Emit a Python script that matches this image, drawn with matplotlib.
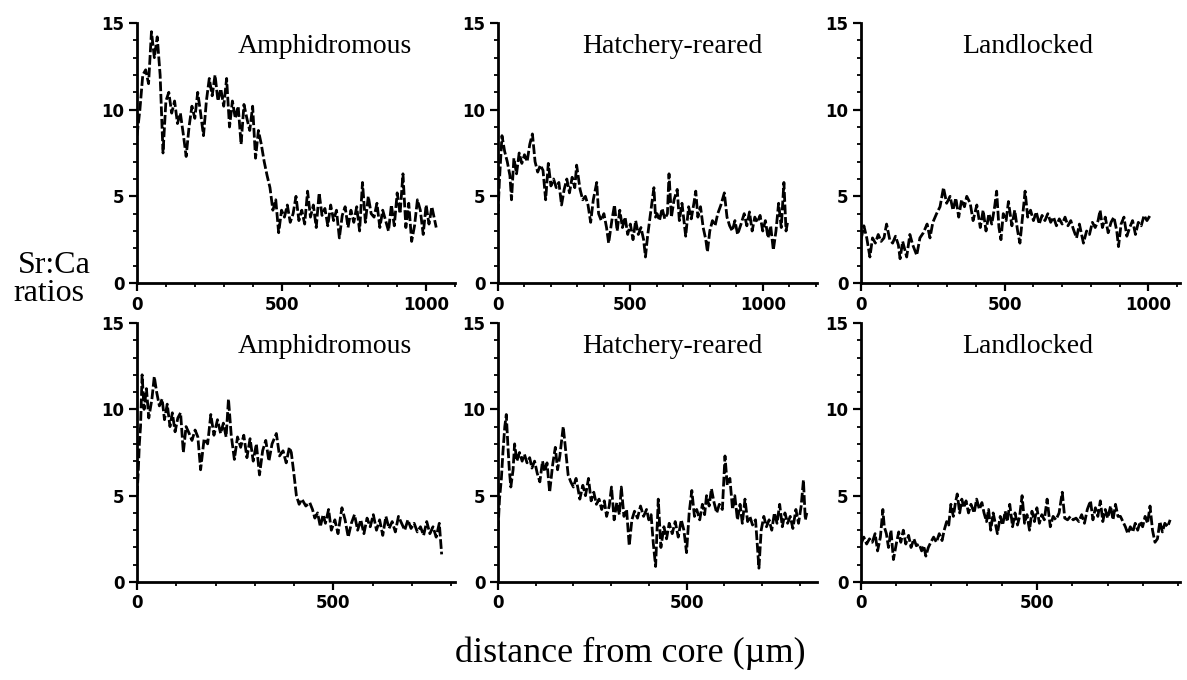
import matplotlib
matplotlib.use("Agg")
import matplotlib.pyplot as plt
from matplotlib.ticker import MultipleLocator

# Sr:Ca profiles (distance in um, ratio)
amph_top_x = [0, 10, 20, 30, 40, 50, 60, 70, 80, 90, 100, 110, 120, 130, 140, 150, 160, 170, 180, 190,
              200, 210, 220, 230, 240, 250, 260, 270, 280, 290, 300, 310, 320, 330, 340, 350, 360, 370,
              380, 390, 400, 410, 420, 430, 440, 450, 460, 470, 480, 490, 500, 510, 520, 530, 540, 550,
              560, 570, 580, 590, 600, 610, 620, 630, 640, 650, 660, 670, 680, 690, 700, 710, 720, 730,
              740, 750, 760, 770, 780, 790, 800, 810, 820, 830, 840, 850, 860, 870, 880, 890, 900, 910,
              920, 930, 940, 950, 960, 970, 980, 990, 1000, 1010, 1020, 1035]
amph_top_y = [8.5, 10.0, 12.0, 12.3, 11.5, 14.5, 13.0, 14.2, 12.0, 7.5, 10.5, 11.0, 9.8, 10.5, 9.2, 9.8,
              8.6, 7.3, 9.0, 10.2, 9.5, 11.0, 9.8, 8.5, 10.5, 11.8, 10.8, 12.0, 10.5, 11.2, 10.2, 11.8,
              9.0, 10.5, 9.5, 10.2, 8.0, 10.3, 9.5, 8.8, 10.2, 7.2, 8.8, 8.0, 7.0, 6.2, 5.5, 4.2, 4.8,
              2.9, 4.2, 3.8, 4.5, 3.5, 4.0, 5.0, 3.6, 4.2, 3.4, 5.3, 3.8, 4.5, 3.2, 5.2, 3.9, 4.3, 3.3,
              4.5, 3.6, 4.2, 2.6, 3.9, 4.4, 3.2, 4.2, 3.5, 4.4, 3.0, 5.8, 3.5, 5.0, 4.0, 3.8, 4.6, 3.2,
              4.2, 3.6, 3.0, 4.5, 3.3, 5.2, 4.0, 6.3, 3.2, 4.6, 2.4, 3.3, 4.8, 4.2, 2.8, 4.5, 3.4, 4.4, 3.2]

hatch_top_x = [0, 5, 15, 25, 35, 45, 51, 60, 70, 80, 90, 100, 110, 120, 130, 140, 150, 160, 170, 180,
               190, 200, 210, 220, 230, 240, 250, 260, 270, 280, 290, 297, 310, 320, 330, 340, 350, 360,
               373, 380, 390, 400, 410, 418, 430, 440, 450, 460, 470, 480, 490, 500, 510, 520, 530, 540,
               550, 557, 565, 576, 589, 595, 601, 610, 620, 630, 640, 646, 655, 665, 677, 685, 695, 709,
               720, 730, 740, 747, 755, 765, 775, 785, 791, 800, 810, 820, 830, 842, 855, 865, 875, 885,
               895, 905, 918, 930, 940, 950, 960, 970, 980, 990, 1000, 1010, 1020, 1030, 1040, 1050,
               1060, 1070, 1080, 1088, 1095]
hatch_top_y = [4.0, 5.8, 8.5, 7.6, 7.0, 6.2, 4.8, 7.2, 6.3, 7.5, 6.9, 7.4, 7.0, 8.0, 8.6, 7.0, 6.4, 6.8,
               6.5, 4.8, 6.9, 5.6, 6.0, 5.5, 5.8, 4.5, 5.4, 6.0, 5.2, 6.1, 5.5, 6.8, 5.4, 4.8, 5.0, 4.5,
               3.5, 4.8, 5.8, 4.0, 3.6, 4.0, 3.2, 2.3, 3.6, 4.5, 3.0, 4.2, 3.2, 3.8, 2.8, 3.4, 2.5, 3.6,
               2.8, 3.2, 2.5, 1.5, 2.7, 4.0, 5.5, 3.8, 4.0, 3.6, 4.3, 3.7, 4.0, 6.3, 3.8, 4.8, 5.4, 3.6,
               4.6, 2.7, 4.4, 3.7, 4.6, 5.3, 3.8, 4.4, 3.2, 2.5, 1.8, 3.0, 3.6, 3.3, 4.0, 4.5, 5.2, 3.8,
               3.3, 3.0, 3.6, 2.8, 3.4, 4.0, 3.3, 4.1, 3.0, 3.8, 3.5, 3.9, 3.0, 3.6, 2.6, 3.3, 1.9, 3.0,
               4.6, 3.2, 5.8, 3.0, 3.6]

land_top_x = [0, 10, 20, 31, 40, 50, 60, 70, 80, 89, 100, 110, 120, 130, 136, 145, 159, 170, 180, 194,
              205, 217, 230, 240, 250, 263, 275, 287, 298, 310, 320, 330, 340, 350, 360, 368, 380, 390,
              403, 415, 425, 435, 445, 455, 465, 472, 480, 487, 495, 505, 513, 525, 535, 545, 553, 562,
              571, 580, 590, 600, 610, 620, 630, 640, 650, 660, 670, 680, 690, 700, 710, 720, 730, 739,
              750, 760, 774, 785, 795, 805, 815, 825, 832, 840, 850, 860, 870, 880, 890, 896, 905, 915,
              925, 935, 945, 955, 965, 975, 985, 995, 1006]
land_top_y = [2.5, 3.3, 2.6, 1.5, 2.6, 2.3, 2.8, 2.4, 2.6, 3.4, 2.5, 2.3, 2.7, 2.2, 1.4, 2.4, 1.5, 2.8,
              2.2, 1.6, 2.6, 2.9, 3.4, 2.6, 3.5, 4.0, 4.4, 5.5, 4.6, 5.0, 4.2, 4.9, 3.8, 4.8, 4.4, 5.0,
              4.6, 3.6, 4.5, 3.2, 4.2, 3.0, 4.0, 3.4, 4.4, 5.3, 3.2, 2.5, 4.0, 3.6, 4.7, 3.3, 4.2, 3.0,
              2.3, 3.8, 5.3, 3.8, 4.2, 3.6, 4.1, 3.4, 3.9, 3.6, 4.0, 3.5, 3.8, 3.3, 3.7, 3.4, 3.8, 3.3,
              3.6, 3.1, 2.6, 3.4, 2.3, 3.0, 2.8, 3.5, 3.2, 3.6, 4.2, 3.2, 3.8, 2.9, 3.5, 3.8, 3.0, 2.1,
              3.4, 3.8, 2.7, 3.2, 3.6, 2.8, 3.5, 3.3, 3.9, 3.6, 3.9]

amph_bot_x = [0, 3, 6, 9, 13, 18, 24, 30, 38, 44, 50, 57, 64, 70, 77, 84, 90, 97, 104, 111, 118, 125,
              133, 140, 148, 155, 162, 171, 180, 188, 196, 205, 213, 220, 227, 233, 240, 248, 256, 264,
              272, 280, 288, 296, 304, 312, 320, 328, 336, 344, 355, 363, 372, 380, 388, 393, 400, 406,
              413, 420, 430, 440, 447, 453, 460, 467, 474, 480, 488, 495, 504, 512, 522, 530, 538, 546,
              554, 562, 570, 578, 586, 594, 602, 610, 618, 626, 634, 642, 650, 658, 666, 674, 682, 690,
              698, 706, 714, 722, 730, 738, 746, 754, 762, 770, 776]
amph_bot_y = [5.0, 6.3, 8.0, 9.0, 12.0, 10.0, 11.2, 9.5, 10.6, 11.9, 11.0, 10.2, 10.6, 9.4, 10.3, 9.0,
              9.8, 8.7, 9.5, 9.8, 7.5, 9.0, 8.6, 8.2, 8.8, 8.4, 6.5, 8.3, 8.0, 9.7, 8.5, 9.4, 8.6, 9.2,
              8.4, 10.6, 8.5, 7.1, 8.4, 7.8, 8.5, 7.2, 8.3, 7.0, 8.0, 6.2, 7.6, 8.2, 7.0, 8.0, 8.6, 7.3,
              7.6, 6.9, 7.8, 7.5, 6.2, 5.0, 4.5, 4.8, 4.4, 4.6, 4.2, 3.7, 4.0, 3.2, 3.9, 3.4, 4.2, 3.0,
              3.6, 2.8, 4.3, 3.6, 2.6, 3.4, 3.9, 3.0, 3.6, 2.8, 3.7, 3.2, 3.9, 3.0, 3.6, 2.7, 3.8, 3.1,
              3.5, 2.9, 3.8, 3.4, 3.0, 3.6, 3.1, 3.4, 2.9, 3.2, 2.7, 3.5, 2.8, 3.2, 2.6, 3.4, 1.6]

hatch_bot_x = [0, 4, 9, 13, 18, 22, 26, 30, 34, 40, 44, 50, 57, 64, 70, 77, 84, 90, 97, 104, 111, 118,
               124, 130, 137, 145, 152, 158, 164, 173, 180, 186, 193, 200, 207, 213, 217, 225, 232, 240,
               247, 254, 261, 268, 275, 282, 288, 295, 301, 308, 315, 322, 327, 334, 341, 348, 355, 362,
               370, 378, 386, 394, 400, 406, 412, 418, 425, 432, 440, 447, 454, 462, 470, 478, 486, 493,
               500, 507, 514, 521, 527, 535, 542, 548, 553, 560, 566, 573, 580, 587, 595, 602, 608, 615,
               622, 628, 635, 642, 648, 655, 662, 668, 675, 683, 692, 698, 705, 712, 719, 726, 733, 740,
               747, 754, 761, 768, 775, 782, 790, 797, 804, 810, 815, 819]
hatch_bot_y = [3.0, 4.8, 6.0, 7.5, 9.0, 9.7, 8.0, 6.5, 5.5, 6.5, 8.0, 7.0, 7.5, 7.0, 7.4, 6.9, 7.2, 6.6,
               7.0, 6.3, 5.8, 7.0, 6.4, 6.9, 5.2, 6.8, 7.8, 6.5, 7.3, 9.0, 7.5, 6.2, 5.8, 5.5, 6.0, 5.3,
               4.8, 5.6, 5.0, 6.0, 4.7, 5.2, 4.5, 4.8, 4.2, 4.7, 3.8, 4.4, 5.5, 3.6, 4.6, 3.9, 5.5, 3.8,
               4.2, 2.1, 3.6, 4.1, 3.7, 4.4, 3.8, 4.2, 3.6, 3.9, 2.2, 0.9, 4.8, 2.0, 3.2, 2.5, 3.4, 2.8,
               3.5, 2.6, 3.6, 3.0, 1.7, 4.0, 5.3, 3.8, 4.2, 3.6, 4.5, 3.9, 5.0, 4.4, 5.4, 4.6, 4.0, 4.5,
               4.2, 7.3, 5.6, 6.0, 4.2, 5.0, 3.6, 4.5, 3.4, 4.8, 3.5, 3.8, 3.3, 3.6, 0.8, 3.0, 3.8, 3.2,
               3.6, 3.0, 4.0, 3.4, 4.5, 3.2, 4.0, 3.4, 3.8, 3.1, 4.2, 3.4, 4.4, 5.9, 3.6, 4.0]

land_bot_x = [0, 8, 16, 24, 32, 40, 47, 55, 62, 66, 72, 78, 85, 92, 100, 107, 113, 120, 127, 135, 142,
              150, 157, 165, 172, 178, 184, 191, 198, 206, 214, 222, 230, 236, 243, 249, 255, 262, 268,
              273, 280, 286, 292, 298, 305, 312, 321, 328, 336, 343, 349, 356, 362, 368, 375, 381, 387,
              395, 402, 409, 415, 422, 430, 437, 444, 450, 457, 464, 471, 478, 485, 492, 499, 506, 513,
              520, 528, 537, 545, 553, 562, 571, 578, 586, 594, 602, 610, 618, 626, 634, 642, 651, 658,
              665, 672, 679, 686, 693, 700, 708, 715, 722, 729, 736, 743, 750, 757, 764, 771, 778, 785,
              792, 799, 806, 813, 820, 827, 834, 841, 848, 855, 862, 870, 877]
land_bot_y = [2.2, 2.6, 2.2, 2.5, 2.3, 2.8, 1.8, 2.6, 4.2, 3.2, 2.8, 2.0, 3.0, 1.3, 2.2, 2.9, 2.3, 3.0,
              2.2, 2.7, 2.0, 2.5, 2.1, 2.2, 1.8, 2.1, 1.5, 2.0, 2.3, 2.6, 2.3, 2.8, 2.4, 3.0, 3.5, 3.3,
              4.5, 3.8, 4.6, 5.1, 4.0, 4.8, 4.3, 4.7, 4.0, 4.5, 4.0, 4.8, 4.2, 4.6, 4.0, 3.5, 4.2, 3.0,
              4.0, 3.4, 2.8, 3.8, 3.3, 4.1, 3.5, 4.5, 3.2, 4.0, 3.3, 3.8, 5.0, 3.4, 3.9, 3.0, 4.1, 3.5,
              4.3, 3.4, 3.9, 3.6, 4.8, 3.2, 3.8, 3.6, 4.0, 5.2, 3.7, 3.6, 3.8, 3.6, 3.7, 3.5, 3.9, 3.4,
              4.2, 4.7, 3.6, 4.3, 3.8, 4.7, 3.5, 4.2, 3.7, 4.4, 3.6, 4.5, 3.8, 3.8, 3.5, 3.2, 2.8, 3.2,
              2.9, 3.4, 3.0, 3.5, 3.2, 3.8, 3.4, 4.4, 3.0, 2.3, 2.5, 3.5, 2.9, 3.4, 3.2, 3.6]

titles = ["Amphidromous", "Hatchery-reared", "Landlocked"]
x_max = [1100, 1205, 1110, 810, 846, 905]

panels = [(amph_top_x, amph_top_y), (hatch_top_x, hatch_top_y), (land_top_x, land_top_y),
          (amph_bot_x, amph_bot_y), (hatch_bot_x, hatch_bot_y), (land_bot_x, land_bot_y)]

W, H = 1187, 680
lefts = [137, 498, 861]
widths = [318, 319, 319]
bottoms = [283, 582]   # pixel row of y=0
tops = [23, 323]       # pixel row of y=15
title_x = [0.59, 0.546, 0.523]

fig = plt.figure(figsize=(W / 100, H / 100), dpi=100)

for i, (xs, ys) in enumerate(panels):
    r, c = divmod(i, 3)
    ax = fig.add_axes([lefts[c] / W, 1 - bottoms[r] / H,
                       widths[c] / W, (bottoms[r] - tops[r]) / H])
    ax.plot(xs, ys, color="black", lw=2.0, ls=(0, (3.5, 1.0)))
    ax.set_xlim(0, x_max[i])
    ax.set_ylim(0, 15)
    ax.spines["top"].set_visible(False)
    ax.spines["right"].set_visible(False)
    for s in ("left", "bottom"):
        ax.spines[s].set_linewidth(2.0)
    ax.set_yticks([0, 5, 10, 15])
    ax.yaxis.set_minor_locator(MultipleLocator(1))
    ax.set_xticks([t for t in (0, 500, 1000) if t <= x_max[i]])
    ax.xaxis.set_minor_locator(MultipleLocator(100))
    ax.tick_params(which="major", direction="out", length=6, width=1.6, pad=3)
    ax.tick_params(which="minor", direction="out", length=3, width=1.3)
    for lab in ax.get_xticklabels() + ax.get_yticklabels():
        lab.set_fontfamily("DejaVu Sans")
        lab.set_fontweight("bold")
        lab.set_fontsize(12)
    ax.text(title_x[c], 0.91, titles[c], transform=ax.transAxes, ha="center", va="center",
            fontsize=20, family="Liberation Serif")

fig.text(54 / W, 1 - 273 / H, "Sr:Ca", ha="center", va="baseline",
         fontsize=23, family="Liberation Serif")
fig.text(49 / W, 1 - 301 / H, "ratios", ha="center", va="baseline",
         fontsize=23, family="Liberation Serif")
fig.text(630 / W, 1 - 662 / H, "distance from core (µm)", ha="center", va="baseline",
         fontsize=26, family="Liberation Serif")

fig.savefig("out.png", dpi=100, facecolor="white")
